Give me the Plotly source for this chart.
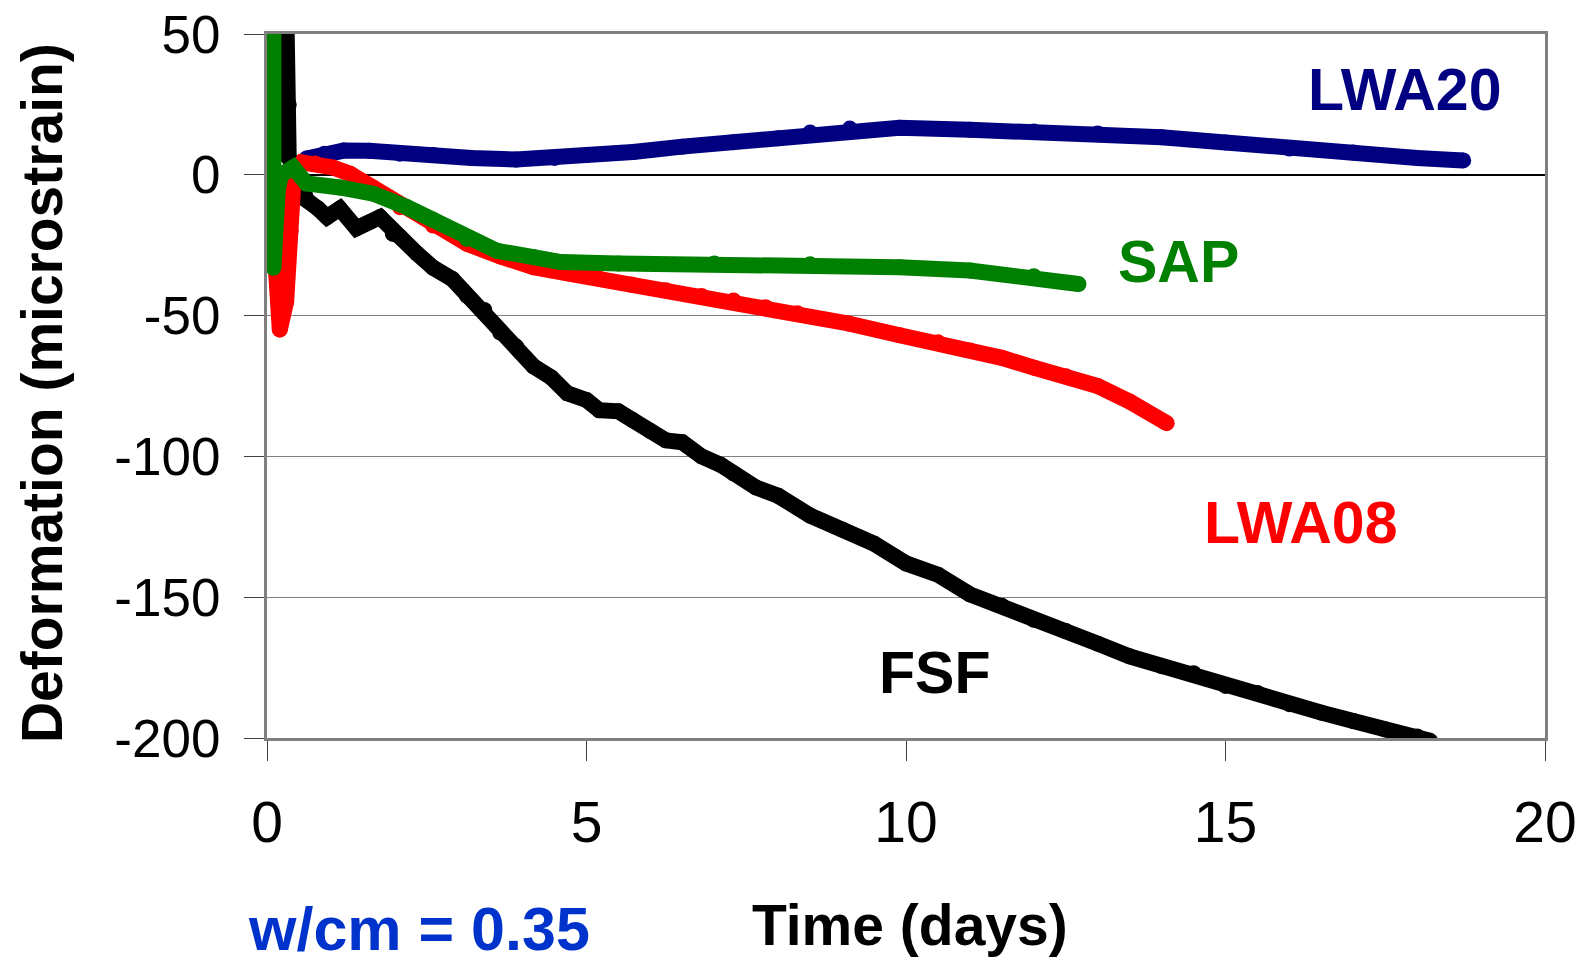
import plotly.graph_objects as go

# data (time in days, deformation in microstrain)
fsf_t = [0.30, 0.30, 0.34, 0.34, 0.45, 0.62, 0.80, 0.94, 1.14, 1.40, 1.77, 1.97, 2.08, 2.35, 2.60,
         2.90, 3.13, 3.40, 3.65, 3.90, 4.17, 4.45, 4.70, 5.00, 5.20, 5.50, 5.73, 6.00, 6.24, 6.50,
         6.80, 7.10, 7.30, 7.65, 8.00, 8.50, 9.00, 9.50, 10.0, 10.5, 11.0, 11.5, 12.0, 12.5, 13.0,
         13.5, 14.0, 14.5, 15.0, 15.5, 16.0, 16.5, 17.0, 17.5, 18.0, 18.2]
fsf_y = [62, 27, 25, 6, 3, -9, -12, -15, -12, -19, -15, -21, -22, -28, -33,
         -37, -43, -48, -56, -61, -68, -72, -77.6, -80, -83.6, -84, -87.2, -91, -94.3, -95,
         -100, -103, -106, -111, -114, -121, -126, -131, -138, -142, -149, -153, -158, -162, -166.5,
         -171, -174.5, -177, -181.5, -184, -188, -191, -194, -197, -199.5, -201]

lwa08_t = [0.13, 0.20, 0.30, 0.37, 0.42, 0.55, 0.75, 1.03, 1.30, 1.66, 2.08, 2.60, 3.13, 3.65,
           4.17, 4.70, 5.20, 5.70, 6.24, 6.80, 7.30, 7.80, 8.30, 9.10, 9.90, 10.5, 11.0, 11.5,
           12.0, 12.5, 13.0, 13.5, 14.08]
lwa08_y = [-30, -55, -45, -20, 0, 4.4, 4, 2.6, 0.4, -4.5, -11.5, -18, -24.5, -29,
           -32.8, -35, -36.9, -39, -41, -43, -44.6, -47, -49.2, -52.8, -57, -59.5, -62.4, -65,
           -68.5, -71.5, -75, -80.5, -88.2]

sap_t = [0.10, 0.10, 0.17, 0.22, 0.41, 0.62, 1.14, 1.66, 2.19, 2.60, 3.13, 3.60, 4.17, 4.60,
         5.50, 7.00, 8.50, 9.90, 11.0, 12.0, 12.7]
sap_y = [62, -33, -5, 0, 2.6, -3.1, -4.5, -6.7, -11.5, -16, -22.7, -27, -29.2, -31,
         -31.5, -31.5, -31.8, -32.8, -34, -36, -38.8]

lwa20_t = [0.62, 0.90, 1.20, 1.60, 2.08, 2.60, 3.20, 3.90, 4.50, 5.00, 5.73, 6.50, 7.30, 8.00,
           8.50, 9.12, 9.90, 11.0, 12.0, 13.0, 14.0, 15.0, 16.0, 17.0, 18.0, 18.72]
lwa20_y = [5.8, 7.5, 8.6, 8.5, 7.5, 7, 6, 5.4, 6, 7, 8.1, 10, 11.6, 13,
           15, 16.4, 16.7, 16, 15.4, 14.7, 13.3, 11.5, 9.3, 7.9, 6, 5.1]

y_ticks = [50, 0, -50, -100, -150, -200]
y_labels = ["50", "0", "-50", "-100", "-150", "-200"]
x_ticks = [0, 5, 10, 15, 20]

font = "Arial, Liberation Sans, sans-serif"

series = [
    (fsf_t, fsf_y, "#000000", "FSF"),
    (lwa20_t, lwa20_y, "#000080", "LWA20"),
    (lwa08_t, lwa08_y, "#FF0000", "LWA08"),
    (sap_t, sap_y, "#008000", "SAP"),
]

data = []
for t, y, color, name in series:
    data.append(go.Scatter(x=t, y=y, name=name, mode="lines+markers",
                           line=dict(color=color, width=16),
                           marker=dict(color=color, size=16)))

labels = [
    (17.8, 30, "LWA20", "#000080"),
    (14.27, -31, "SAP", "#008000"),
    (16.18, -123.5, "LWA08", "#FF0000"),
    (10.45, -177, "FSF", "#000000"),
]
annotations = []
for x, y, text, color in labels:
    annotations.append(dict(x=x, y=y, text="<b>%s</b>" % text, showarrow=False,
                            xanchor="center", yanchor="middle",
                            font=dict(family=font, size=59, color=color)))

annotations.append(dict(xref="paper", yref="paper", x=0.503, y=-0.265, text="<b>Time (days)</b>",
                        xanchor="center", yanchor="middle",
                        showarrow=False, font=dict(family=font, size=57, color="black")))
annotations.append(dict(xref="paper", yref="paper", x=-0.176, y=0.49, text="<b>Deformation (microstrain)</b>",
                        xanchor="center", yanchor="middle",
                        textangle=-90, showarrow=False, font=dict(family=font, size=57, color="black")))
annotations.append(dict(xref="paper", yref="paper", x=0.119, y=-0.271, text="<b>w/cm = 0.35</b>",
                        xanchor="center", yanchor="middle",
                        showarrow=False, font=dict(family=font, size=61, color="#0033CC")))

layout = go.Layout(
    width=1591, height=964,
    margin=dict(l=259, r=54, t=26, b=234),
    paper_bgcolor="white", plot_bgcolor="white",
    showlegend=False,
    font=dict(family=font, color="black"),
    xaxis=dict(range=[0, 20], tickvals=x_ticks, ticks="outside", ticklen=20, tickcolor="#404040",
               showgrid=False, zeroline=False, showline=True, linecolor="#808080", linewidth=3,
               mirror=True, tickfont=dict(size=57), ticklabelstandoff=13, automargin=False,
               ticklabeloverflow="allow"),
    yaxis=dict(range=[-200, 50], tickvals=y_ticks, ticktext=y_labels, ticks="outside", ticklen=20,
               tickcolor="#404040", showgrid=True, gridcolor="#808080", gridwidth=1,
               zeroline=True, zerolinecolor="#000000", zerolinewidth=1.5,
               showline=True, linecolor="#808080", linewidth=3, mirror=True,
               tickfont=dict(size=53), ticklabelstandoff=13, automargin=False,
               ticklabeloverflow="allow"),
    annotations=annotations,
)

fig = go.Figure(data=data, layout=layout)
fig.write_html("out.html")
